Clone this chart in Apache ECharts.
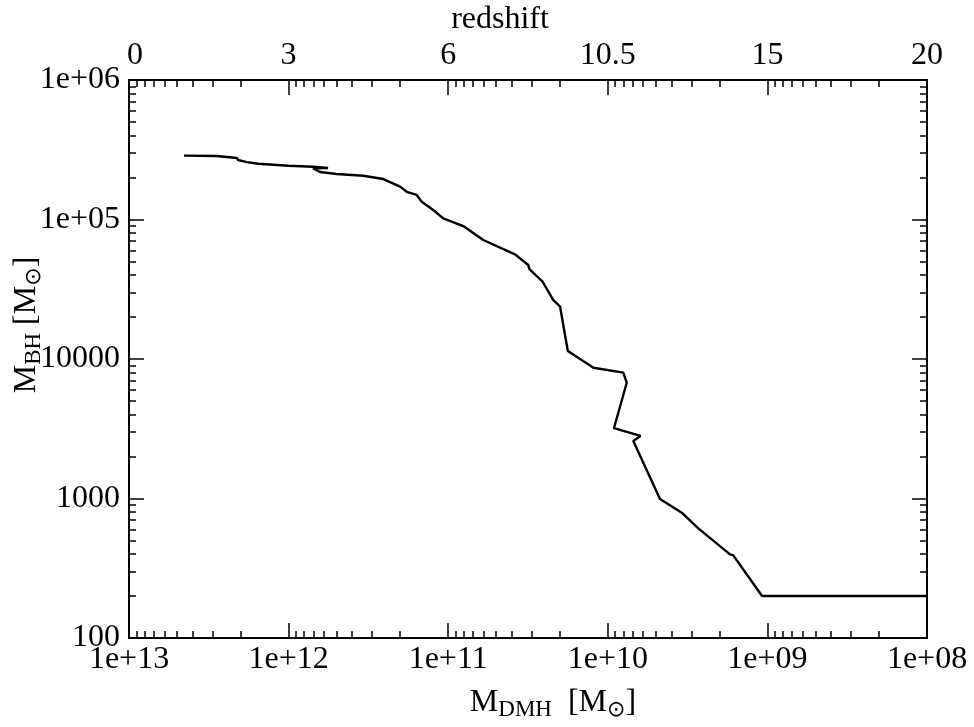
<!DOCTYPE html>
<html>
<head>
<meta charset="utf-8">
<script src="https://cdn.jsdelivr.net/npm/echarts@6/dist/echarts.min.js"></script>
<style>html,body{margin:0;padding:0;background:#fff;}#c{width:974px;height:727px;}</style>
</head>
<body>
<div id="c"></div>
<script>
// Dark-matter halo mass (x) and black-hole mass (y) along the track
const mDMH = [4.52e12, 2.82e12, 2.76e12, 2.11e12, 2.07e12, 1.83e12, 1.55e12, 1.0e12, 7.0e11, 5.66e11,
  7.03e11, 6.36e11, 5.0e11, 3.4e11, 2.55e11, 2.0e11, 1.82e11, 1.575e11, 1.466e11, 1.24e11,
  1.074e11, 8.04e10, 7.3e10, 6.03e10, 3.82e10, 3.15e10, 3.1e10, 2.56e10, 2.2e10, 1.99e10,
  1.78e10, 1.23e10, 8.0e9, 7.61e9, 9.15e9, 6.24e9, 6.92e9, 4.71e9, 3.44e9, 2.71e9,
  1.715e9, 1.64e9, 1.08e9, 1e8];
const mBH = [2.87e5, 2.85e5, 2.81e5, 2.76e5, 2.67e5, 2.58e5, 2.51e5, 2.43e5, 2.39e5, 2.34e5,
  2.33e5, 2.19e5, 2.12e5, 2.06e5, 1.95e5, 1.72e5, 1.58e5, 1.50e5, 1.34e5, 1.17e5,
  1.02e5, 8.98e4, 8.31e4, 7.13e4, 5.63e4, 4.72e4, 4.40e4, 3.58e4, 2.65e4, 2.37e4,
  1.14e4, 8.66e3, 7.98e3, 6.76e3, 3.19e3, 2.81e3, 2.58e3, 992, 791, 611,
  398, 393, 200, 200];

const xTickValues = [1e13, 1e12, 1e11, 1e10, 1e9, 1e8];
const xTickLabels = ['1e+13', '1e+12', '1e+11', '1e+10', '1e+09', '1e+08'];
const redshiftLabels = ['0', '3', '6', '10.5', '15', '20'];
const yTickValues = [100, 1000, 1e4, 1e5, 1e6];
const yTickLabels = ['100', '1000', '10000', '1e+05', '1e+06'];

const FONT = 'Liberation Serif, Times New Roman, DejaVu Serif, serif';
const BLACK = '#000';

function minorValues(lo, hi) {
  const out = [];
  for (let d = lo; d < hi; d++) for (let k = 2; k <= 9; k++) out.push(k * Math.pow(10, d));
  return out;
}
function findIndex(vals, v) {
  for (let i = 0; i < vals.length; i++) {
    if (Math.abs(Math.log10(v) - Math.log10(vals[i])) < 1e-6) return i;
  }
  return -1;
}
function lookup(vals, labels) {
  return function (v) {
    const i = findIndex(vals, v);
    return i < 0 ? '' : labels[i];
  };
}

const xMinor = minorValues(8, 13);
const yMinor = minorValues(2, 6);

function xAxisDef(pos, major, labels) {
  const a = {
    type: 'log', logBase: 10, min: 1e8, max: 1e13, inverse: true, position: pos,
    splitLine: { show: false },
    axisLine: { show: major, lineStyle: { color: BLACK, width: 2 } },
    axisTick: { show: true, inside: true, length: major ? 15 : 7, lineStyle: { color: BLACK, width: 1.5 } },
    axisLabel: { show: false }
  };
  if (major) {
    a.axisTick.customValues = xTickValues;
    a.axisLabel = {
      show: true, customValues: xTickValues,
      fontFamily: FONT, fontSize: 32, color: BLACK, margin: pos === 'top' ? 8 : 6
    };
    if (pos === 'top') {
      a.axisLabel.formatter = function (v) {
        const i = findIndex(xTickValues, v);
        if (i < 0) return '';
        return i === 0 ? '{first|' + labels[i] + '}' : labels[i];
      };
      a.axisLabel.rich = { first: { fontFamily: FONT, fontSize: 32, color: BLACK, padding: [0, 0, 0, 12] } };
    } else {
      a.axisLabel.formatter = lookup(xTickValues, labels);
    }
  } else {
    a.axisTick.customValues = xMinor;
  }
  return a;
}
function yAxisDef(pos, major) {
  const a = {
    type: 'log', logBase: 10, min: 100, max: 1e6, position: pos,
    splitLine: { show: false },
    axisLine: { show: major, lineStyle: { color: BLACK, width: 2 } },
    axisTick: { show: true, inside: true, length: major ? 15 : 7, lineStyle: { color: BLACK, width: 1.5 } },
    axisLabel: { show: false }
  };
  if (major) {
    a.axisTick.customValues = yTickValues;
    if (pos === 'left') {
      a.axisLabel = {
        show: true, customValues: yTickValues, formatter: lookup(yTickValues, yTickLabels),
        fontFamily: FONT, fontSize: 32, color: BLACK, margin: 9
      };
    }
  } else {
    a.axisTick.customValues = yMinor;
  }
  return a;
}

const richStyles = {
  m: { fontFamily: FONT, fontSize: 32, color: BLACK },
  s: { fontFamily: FONT, fontSize: 23, color: BLACK, padding: [14, 0, 0, 0] },
  o: { fontFamily: 'DejaVu Sans, ' + FONT, fontSize: 22, color: BLACK, padding: [14, 0, 0, 0] }
};

const chart = echarts.init(document.getElementById('c'), null, { renderer: 'canvas' });
chart.setOption({
  animation: false,
  backgroundColor: '#fff',
  grid: { left: 129, right: 47, top: 80, bottom: 89, outerBoundsMode: 'none', containLabel: false },
  xAxis: [xAxisDef('bottom', true, xTickLabels), xAxisDef('bottom', false), xAxisDef('top', true, redshiftLabels), xAxisDef('top', false)],
  yAxis: [yAxisDef('left', true), yAxisDef('left', false), yAxisDef('right', true), yAxisDef('right', false)],
  graphic: [
    { type: 'text', x: 500, y: 20, style: { text: 'redshift', font: '32px ' + FONT, fill: BLACK, align: 'center', verticalAlign: 'middle' } },
    { type: 'text', x: 553, y: 703, style: { text: '{m|M}{s|DMH}{m|  [M}{o|⊙}{m|]}', rich: richStyles, align: 'center', verticalAlign: 'middle' } },
    { type: 'text', x: 27, y: 325, rotation: Math.PI / 2, style: { text: '{m|M}{s|BH}{m| [M}{o|⊙}{m|]}', rich: richStyles, align: 'center', verticalAlign: 'middle' } }
  ],
  series: [{
    type: 'line', xAxisIndex: 0, yAxisIndex: 0, showSymbol: false, symbol: 'none',
    lineStyle: { color: BLACK, width: 2.4 },
    data: mDMH.map((x, i) => [x, mBH[i]])
  }]
});
</script>
</body>
</html>
